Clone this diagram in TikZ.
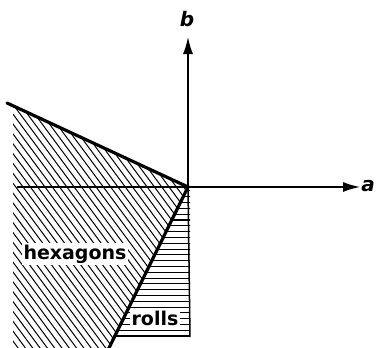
\documentclass[tikz,border=0pt]{standalone}
\usepackage{fontspec}
\newfontfamily\labfont{DejaVu Sans}
\usetikzlibrary{arrows.meta}
\begin{document}
\begin{tikzpicture}[x=1pt,y=-1pt,
  axis/.style={line width=1.5pt,-{Latex[length=17pt,width=10pt]}},
  bound/.style={line width=3.2pt,line cap=round},
  thinb/.style={line width=1.5pt},
  hatch/.style={line width=1pt},
  region/.style={font=\labfont\bfseries\fontsize{19}{21}\selectfont, fill=white, inner sep=1.5pt, anchor=base},
  axlabel/.style={font=\labfont\bfseries\itshape\fontsize{20}{22}\selectfont, inner sep=0pt, anchor=base}]
\useasboundingbox (0,0) rectangle (376,348);
\coordinate (O) at (188,187);
\coordinate (U) at (7,103);
\coordinate (L) at (108,350);
\coordinate (AxL) at (17,187);
\coordinate (AxR) at (360,187);
\coordinate (AxT) at (188,37);
\coordinate (VB) at (190,337);
\coordinate (BL) at (114,336);
\coordinate (BR) at (190,336);
% hexagon hatching
\begin{scope}
  \clip (13,105.8) -- (O) -- (L) -- (13,350) -- cycle;
  \foreach \k in {0,...,46} \draw[hatch] ({-180+7.3*\k},100) -- ++(185,250);
\end{scope}
% roll hatching
\begin{scope}
  \clip (O) -- (190,187) -- (BR) -- (BL) -- cycle;
  \foreach \k in {1,...,25} \draw[hatch] (100,{336-5.8*\k}) -- (192,{336-5.8*\k});
\end{scope}
% labels
\node[region] (hex) at (75,259) {hexagons};
\node[region] (rol) at (155,326) {rolls};
% axes
\draw[axis] (AxL) -- (AxR);
\draw[axis] (O) -- (AxT);
\node[axlabel] (la) at (368,191) {a};
\node[axlabel] (lb) at (187,27) {b};
% boundaries
\draw[thinb] (O) -- (VB);
\draw[thinb] (BL) -- (BR);
\draw[bound] (U) -- (O) -- (L);
\end{tikzpicture}
\end{document}
